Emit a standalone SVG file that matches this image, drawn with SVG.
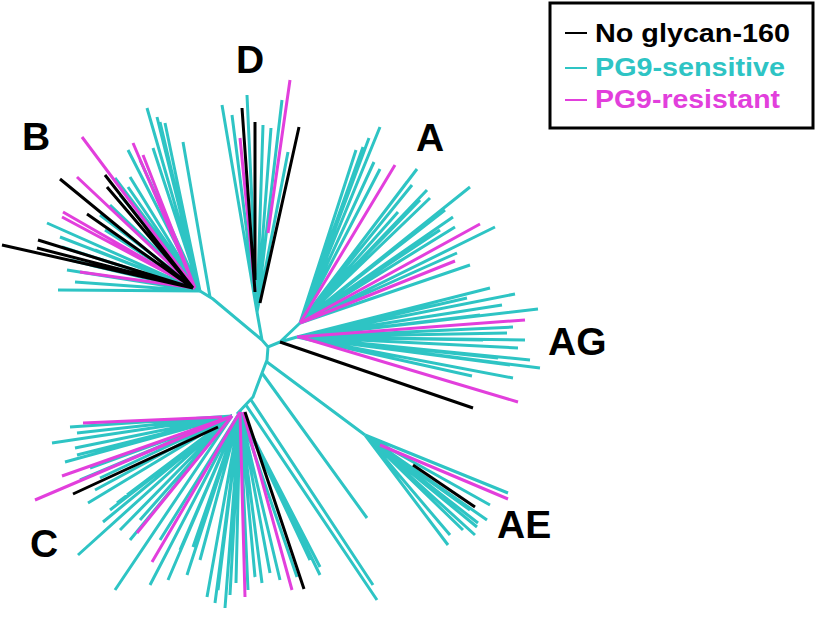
<svg xmlns="http://www.w3.org/2000/svg" width="820" height="620" viewBox="0 0 820 620">
<style>
.cy{fill:none;stroke:#2ec4c4;stroke-width:3}
.mg{fill:none;stroke:#e23fdc;stroke-width:3}
.bk{fill:none;stroke:#000;stroke-width:3}
.lbl{font-family:"Liberation Sans",Arial,sans-serif;font-weight:bold;font-size:39px;fill:#000}
.leg{font-family:"Liberation Sans",Arial,sans-serif;font-weight:bold;font-size:25px}
</style>
<rect width="820" height="620" fill="#fff"/>
<g id="backbone">
<path class="cy" d="M200 291L213 299L262 340L268 347L280 342L297 337M280 342L300 323M257 312L262 340M268 347L267 360L262 373L253 397L237 414M267 362L365 435M262 373L367 518M251 400L373 585M246 405L377 600"/>
</g>
<g id="clade-B">
<path class="cy" d="M200 291L147 108M200 291L157 117M200 291L160 122M200 291L165 123M210 297L183 142M200 291L128 150M200 291L153 148M200 291L140 160M200 291L130 177M200 291L128 187M200 291L120 195M200 291L110 205M200 291L100 215M200 291L105 230M200 291L47 223M200 291L60 237M200 291L62 247M200 291L70 260M200 291L90 265M200 291L67 270M200 291L75 282M200 291L58 290M200 291L115 178M200 291L95 250"/>
<path class="mg" d="M195 288L82 137M195 288L133 143M195 288L143 155M195 288L77 177M195 288L63 212M195 288L62 217M195 288L80 272"/>
<path class="bk" d="M193 288L60 179M193 288L105 175M193 288L107 187M193 288L87 214M193 288L2 245M193 288L38 240M193 288L37 248"/>
</g>
<g id="clade-D">
<path class="cy" d="M257 312L222 105M257 312L232 115M257 312L247 95M257 312L263 125M257 312L271 128M257 312L282 100M257 312L288 152"/>
<path class="mg" d="M255 290L240 138M268 233L290 80"/>
<path class="bk" d="M255 292L242 108M255 280L255 122M260 303L299 127"/>
</g>
<g id="clade-A">
<path class="cy" d="M300 323L380 127M300 323L369 138M300 323L363 147M300 323L356 150M300 323L374 162M300 323L380 169M300 323L417 169M300 323L412 185M300 323L407 182M300 323L427 190M300 323L430 198M300 323L470 187M300 323L453 217M300 323L495 227M300 323L455 227M300 323L457 253M300 323L470 265M300 323L440 230M300 323L445 210M300 323L420 200M300 323L398 212"/>
<path class="mg" d="M300 323L395 165M300 323L480 224M300 323L455 261"/>
</g>
<g id="clade-AG">
<path class="cy" d="M297 337L490 288M297 337L515 294M297 337L502 305M297 337L538 309M297 337L513 327M297 337L507 333M297 337L483 340M297 337L518 348M297 337L498 358M297 337L540 368M297 337L513 378M297 337L472 376M297 337L467 298M297 337L480 315M297 337L525 340M297 337L510 365M297 337L530 360"/>
<path class="mg" d="M297 337L525 320M300 337L518 402"/>
<path class="bk" d="M280 342L473 408"/>
</g>
<g id="clade-AE">
<path class="cy" d="M365 435L508 493M365 435L487 520M365 435L478 523M365 435L477 527M365 435L475 535M365 435L463 530M365 435L450 535M365 435L448 545M365 435L470 510M365 435L490 505"/>
<path class="mg" d="M380 445L508 499"/>
<path class="bk" d="M413 465L475 507"/>
</g>
<g id="clade-C">
<path class="cy" d="M232 416L70 427M232 416L77 433M232 416L52 443M232 416L75 448M232 416L77 455M232 416L65 462M232 416L90 468M232 416L80 480M232 416L100 478M232 416L95 490M232 416L88 503M232 416L103 522M232 416L117 503M232 416L127 495M232 416L110 510M232 416L120 530M232 416L78 555M232 416L115 590M232 416L130 540M232 416L140 520M240 412L150 585M240 412L168 580M240 412L187 575M240 412L193 547M240 412L160 540M240 412L180 550M240 412L200 560M240 412L207 597M240 412L215 603M240 412L225 608M240 412L236 583M240 412L230 595M240 412L255 577M240 412L262 583M240 412L270 573M240 412L280 580M240 412L297 577M240 412L320 575M240 412L320 567M240 412L310 560M240 412L218 590M240 412L248 590"/>
<path class="mg" d="M222 417L83 423M232 416L62 476M232 416L35 500M232 416L137 533M240 412L152 562M240 412L245 597M243 412L292 590"/>
<path class="bk" d="M218 427L73 494M245 412L304 589"/>
</g>
<g id="labels">
<text class="lbl" x="22" y="150">B</text>
<text class="lbl" x="236" y="73">D</text>
<text class="lbl" x="416" y="151">A</text>
<text class="lbl" x="548" y="355">AG</text>
<text class="lbl" x="497" y="538">AE</text>
<text class="lbl" x="30" y="557">C</text>
</g>
<g id="legend">
<rect x="550" y="3" width="263" height="125" fill="#fff" stroke="#000" stroke-width="3"/>
<path d="M565 33H587" stroke="#000" stroke-width="2"/>
<path d="M565 68H587" stroke="#2ec4c4" stroke-width="2"/>
<path d="M565 100H587" stroke="#e23fdc" stroke-width="2"/>
<text class="leg" x="595" y="42" textLength="195" lengthAdjust="spacingAndGlyphs" fill="#000">No glycan-160</text>
<text class="leg" x="595" y="76" textLength="190" lengthAdjust="spacingAndGlyphs" fill="#2ec4c4">PG9-sensitive</text>
<text class="leg" x="595" y="108" textLength="185" lengthAdjust="spacingAndGlyphs" fill="#e23fdc">PG9-resistant</text>
</g>
</svg>
